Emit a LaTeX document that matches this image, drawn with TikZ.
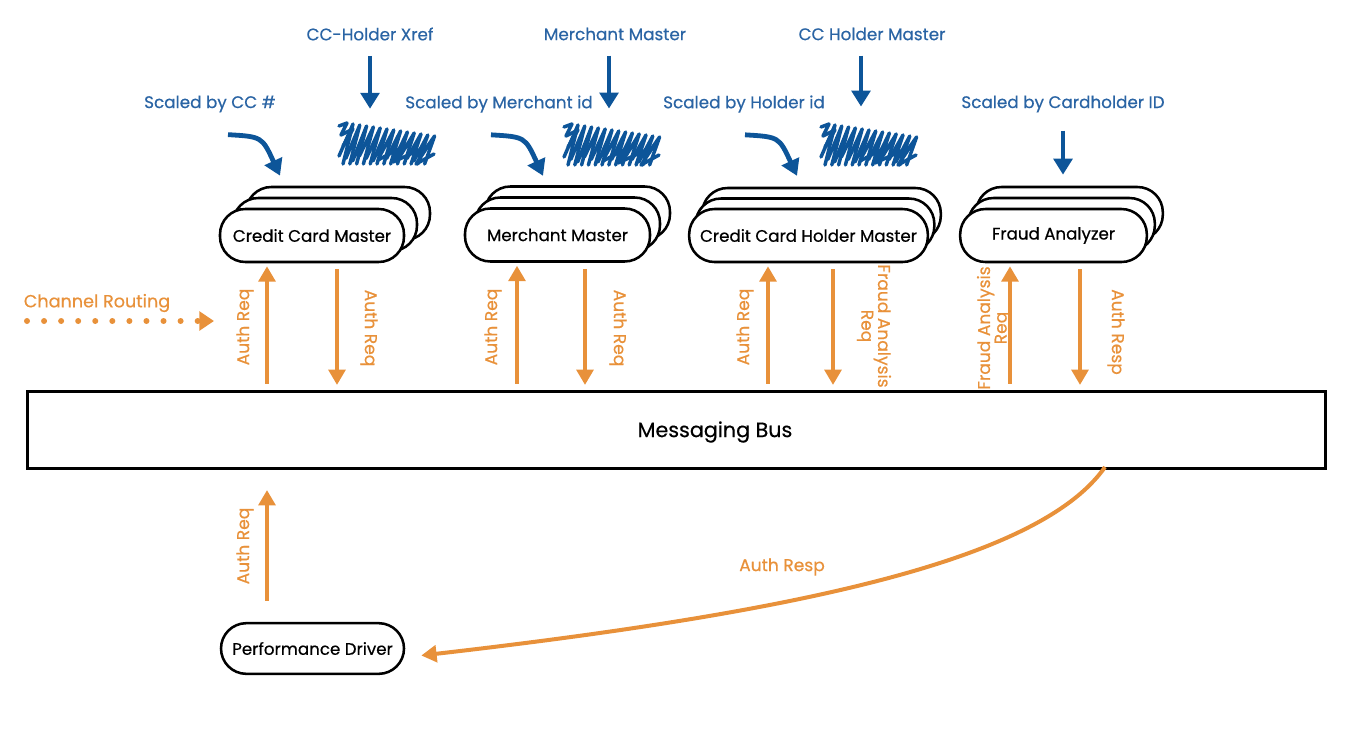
\documentclass[tikz,border=0pt]{standalone}
\usepackage{fontspec}
\setmainfont{Poppins}[FakeBold=0.5]
\usetikzlibrary{arrows.meta,calc,shadows}
\definecolor{oran}{HTML}{E8913A}
\definecolor{bluet}{HTML}{2A64A4}
\definecolor{bluea}{HTML}{0D5599}
\begin{document}
\begin{tikzpicture}[x=0.75pt,y=-0.75pt,
  master/.style={draw=black,line width=1.9pt,fill=white,rounded corners=19pt,
    minimum height=39.75pt,inner sep=0pt,font=\fontsize{12.5}{14}\selectfont},
  stack/.style 2 args={general shadow={shadow xshift=#1*1.5pt,shadow yshift=#2*1.5pt,draw=black,line width=1.9pt,fill=white},
    general shadow={shadow xshift=#1*0.75pt,shadow yshift=#2*0.75pt,draw=black,line width=1.9pt,fill=white}},
  olab/.style={text=oran,font=\fontsize{12.8}{12.5}\selectfont,align=center,inner sep=0pt},
  blab/.style={text=bluet,font=\fontsize{12.6}{14}\selectfont,inner sep=0pt},
  oarrow/.style={draw=oran,line width=3pt,-{Triangle[width=12.5pt,length=11.5pt]}},
  barrow/.style={draw=bluea,line width=3.6pt,-{Triangle[width=14pt,length=12pt]}},
  hatch/.style={draw=bluea,line width=2.6pt,line cap=round,line join=round},
  scrib/.pic={
    \foreach \i in {0,...,12}{
      \draw[hatch] ({\i*6.8+1}, {34+mod(\i,3)*2.5}) -- ({\i*6.8+15}, {2+\i*1.0}) -- ({\i*6.8+5}, 42);
    }
    \draw[hatch] (1,4) -- (9,1) -- (3,13) -- (15,7) -- (5,24);
    \draw[hatch] (40,38) -- (70,22) -- (55,40) -- (90,24) -- (78,42) -- (96,32);
  }]
\useasboundingbox (0,0) rectangle (1352,732);

% Messaging bus
\node[draw=black,line width=2.3pt,minimum width=973.5pt,minimum height=57.75pt,inner sep=0pt] (bus) at (676.5,430) {};
\node[font=\fontsize{15.5}{17}\selectfont,inner sep=0pt] (busl) at (715,432) {Messaging Bus};

% masters
\node[master,minimum width=138pt,stack={13}{11}] (ccm) at (312,235.5) {Credit Card Master};
\node[master,minimum width=138.75pt,stack={10}{11}] (mm) at (557.5,235) {Merchant Master};
\node[master,minimum width=179pt,stack={6.5}{10.5}] (cchm) at (808.5,235.5) {Credit Card Holder Master};
\node[master,minimum width=140pt,stack={8}{11}] (fa) at (1053.5,235.5) {Fraud Analyzer};

% performance driver
\node[master,minimum width=137.25pt,minimum height=38pt] (pd) at (312.5,648.5) {Performance Driver};

% orange vertical arrows (upper)
\draw[oarrow] ($(ccm.south |- bus.north)+(-45,-6)$) -- ($(ccm.south)+(-45,3)$);
\draw[oarrow] ($(ccm.south)+(25,6)$) -- ($(ccm.south |- bus.north)+(25,-5)$);
\draw[oarrow] ($(mm.south |- bus.north)+(-40.5,-6)$) -- ($(mm.south)+(-40.5,3)$);
\draw[oarrow] ($(mm.south)+(27.5,6)$) -- ($(mm.south |- bus.north)+(27.5,-5)$);
\draw[oarrow] ($(cchm.south |- bus.north)+(-40.5,-6)$) -- ($(cchm.south)+(-40.5,3)$);
\draw[oarrow] ($(cchm.south)+(24.5,6)$) -- ($(cchm.south |- bus.north)+(24.5,-5)$);
\draw[oarrow] ($(fa.south |- bus.north)+(-43.5,-6)$) -- ($(fa.south)+(-43.5,3)$);
\draw[oarrow] ($(fa.south)+(26.5,6)$) -- ($(fa.south |- bus.north)+(26.5,-5)$);
% lower
\draw[oarrow] ($(pd.north)+(-45.5,-21)$) -- ($(bus.south -| pd.north)+(-45.5,20)$);

% orange labels
\node[olab,rotate=90] (l1) at (245,327) {Auth Req};
\node[olab,rotate=-90] (l2) at (369,328) {Auth Req};
\node[olab,rotate=90] (l3) at (493,327) {Auth Req};
\node[olab,rotate=-90] (l4) at (618,328) {Auth Req};
\node[olab,rotate=90] (l5) at (745,327) {Auth Req};
\node[olab,rotate=-90] (l6) at (874,326) {Fraud Analysis\\Req};
\node[olab,rotate=90] (l7) at (994,328) {Fraud Analysis\\Req};
\node[olab,rotate=-90] (l8) at (1116,332) {Auth Resp};
\node[olab,rotate=90] (l9) at (245,546) {Auth Req};
\node[olab] (l10) at (782,567) {Auth Resp};
\node[olab,font=\fontsize{13.2}{14}\selectfont] (l11) at (97,303) {Channel Routing};

% channel routing dotted arrow
\coordinate (crS) at (27,321);
\coordinate (crE) at (214,321);
\draw[draw=oran,line width=4.5pt,line cap=round,dash pattern=on 0pt off 12.8pt,
  -{Triangle[width=14pt,length=11pt]}] (crS) -- (crE);

% auth resp curve
\coordinate (busR) at (1105,467);
\draw[oarrow] (busR) .. controls (1040,560) and (800,612) .. ($(pd.east)+(16,7)$);

% blue labels
\node[blab] (b1) at (370,34) {CC-Holder Xref};
\node[blab] (b2) at (615,34) {Merchant Master};
\node[blab] (b3) at (872,34) {CC Holder Master};
\node[blab] (b4) at (210,104) {Scaled by CC \#};
\node[blab] (b5) at (499,104) {Scaled by Merchant id};
\node[blab] (b6) at (744,104) {Scaled by Holder id};
\node[blab] (b7) at (1063,104) {Scaled by Cardholder ID};

% blue down arrows
\draw[barrow] ($(b1.south)+(0,15)$) -- ($(b1.south)+(0,68)$);
\draw[barrow] ($(b2.south -| 609,0)+(0,15)$) -- ($(b2.south -| 609,0)+(0,68)$);
\draw[barrow] ($(b3.south -| 861,0)+(0,15)$) -- ($(b3.south -| 861,0)+(0,66)$);
\draw[barrow] ($(b7.south)+(0,18)$) -- ($(b7.south)+(0,62)$);

% blue curved arrows
\draw[barrow] ($(b4.south)+(18,22)$) .. controls ($(b4.south)+(52,24)$) .. ($(b4.south)+(70,63)$);
\draw[barrow] ($(b5.south)+(-8,22)$) .. controls ($(b5.south)+(26,24)$) .. ($(b5.south)+(44,63)$);
\draw[barrow] ($(b6.south)+(1,22)$) .. controls ($(b6.south)+(35,24)$) .. ($(b6.south)+(53,63)$);

% hatches
\pic at (338,122) {scrib};
\pic at (563,123) {scrib};
\pic at (820,123) {scrib};
\end{tikzpicture}
\end{document}
